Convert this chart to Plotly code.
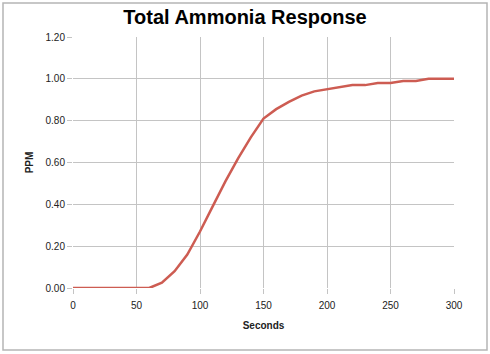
import plotly.graph_objects as go

seconds = [0, 10, 20, 30, 40, 50, 60, 70, 80, 90, 100, 110, 120, 130, 140, 150,
           160, 170, 180, 190, 200, 210, 220, 230, 240, 250, 260, 270, 280, 290, 300]
ppm = [0.00, 0.00, 0.00, 0.00, 0.00, 0.00, 0.00, 0.025, 0.08, 0.16, 0.27, 0.39, 0.51, 0.62,
       0.72, 0.81, 0.855, 0.89, 0.92, 0.94, 0.95, 0.96, 0.97, 0.97, 0.98, 0.98, 0.99, 0.99,
       1.00, 1.00, 1.00]
x_ticks = [0, 50, 100, 150, 200, 250, 300]
y_ticks = [0.0, 0.2, 0.4, 0.6, 0.8, 1.0, 1.2]

W, H = 490, 354
ml, mr, mt, mb = 73, 36, 37, 66
pw, ph = W - ml - mr, H - mt - mb

fig = go.Figure()
fig.add_trace(go.Scatter(x=seconds, y=ppm, mode="lines",
                         line=dict(color="#cd5c52", width=2.5), showlegend=False))

font = "Liberation Sans, Arial, sans-serif"
fig.update_layout(
    width=W, height=H,
    margin=dict(l=ml, r=mr, t=mt, b=mb),
    paper_bgcolor="white", plot_bgcolor="white",
    title=dict(text="<b>Total Ammonia Response</b>", x=0.5, xanchor="center",
               y=1 - 17 / H, yanchor="middle",
               font=dict(family=font, size=20, color="black")),
    font=dict(family=font, size=10, color="#222"),
)
fig.update_xaxes(range=[0, 300], tickvals=x_ticks, ticktext=[str(v) for v in x_ticks],
                 showgrid=True, gridcolor="#c4c4c4", gridwidth=1.4,
                 zeroline=False, showline=False,
                 ticks="outside", ticklen=5, tickcolor="#c4c4c4", tickwidth=1.4,
                 ticklabelstandoff=3,
                 tickfont=dict(size=10, color="#222"),
                 title=dict(text="<b>Seconds</b>", font=dict(size=10, color="#222"), standoff=11))
fig.update_yaxes(range=[0, 1.2], tickvals=y_ticks, ticktext=[f"{v:.2f}" for v in y_ticks],
                 showgrid=True, gridcolor="#c4c4c4", gridwidth=1.4,
                 zeroline=False, showline=False,
                 ticks="outside", ticklen=5, tickcolor="#c4c4c4", tickwidth=1.4,
                 tickfont=dict(size=10, color="#222"),
                 title=dict(text="<b>PPM</b>", font=dict(size=10, color="#222"), standoff=10))

# outer chart border
x0 = (3 - ml) / pw
x1 = (487 - ml) / pw
y0 = (H - mb - 350) / ph
y1 = (H - mb - 3) / ph
fig.add_shape(type="rect", xref="paper", yref="paper", x0=x0, x1=x1, y0=y0, y1=y1,
              line=dict(color="#b5b5b5", width=1.5), layer="below")

fig.write_html("out.html")
